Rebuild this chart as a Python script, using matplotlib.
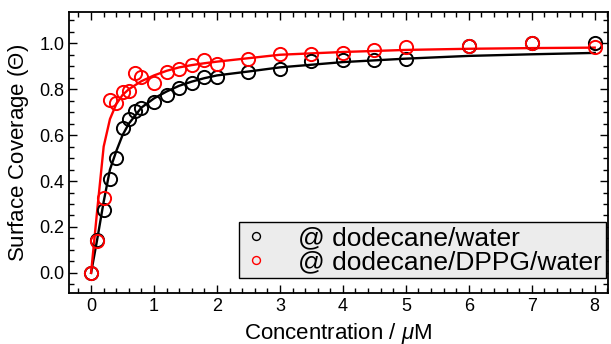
import matplotlib
matplotlib.use('Agg')
import matplotlib.pyplot as plt
from matplotlib.ticker import MultipleLocator
import numpy as np

plt.rcParams['font.family'] = ['Liberation Sans', 'DejaVu Sans']
plt.rcParams['mathtext.fontset'] = 'custom'
plt.rcParams['mathtext.rm'] = 'Liberation Sans'
plt.rcParams['mathtext.it'] = 'Liberation Sans:italic'

# measured surface coverage
conc_water = [0, 0.1, 0.2, 0.3, 0.4, 0.5, 0.6, 0.7, 0.8, 1.0, 1.2, 1.4, 1.6, 1.8, 2.0,
              2.5, 3.0, 3.5, 4.0, 4.5, 5.0, 6.0, 7.0, 8.0]
theta_water = [0.0, 0.145, 0.275, 0.41, 0.50, 0.63, 0.67, 0.705, 0.72, 0.745, 0.775, 0.805,
               0.828, 0.854, 0.854, 0.873, 0.887, 0.924, 0.927, 0.927, 0.932, 0.988, 1.0, 1.003]

conc_dppg = [0, 0.1, 0.2, 0.3, 0.4, 0.5, 0.6, 0.7, 0.8, 1.0, 1.2, 1.4, 1.6, 1.8, 2.0,
             2.5, 3.0, 3.5, 4.0, 4.5, 5.0, 6.0, 7.0, 8.0]
theta_dppg = [0.0, 0.14, 0.328, 0.752, 0.74, 0.787, 0.792, 0.87, 0.852, 0.828, 0.876, 0.887,
              0.905, 0.925, 0.909, 0.932, 0.952, 0.952, 0.959, 0.971, 0.982, 0.989, 1.0, 0.982]

# fitted curves
fit_x = [0, 0.1, 0.2, 0.3, 0.4, 0.5, 0.6, 0.8, 1.0, 1.2, 1.4, 1.6, 1.8, 2.0,
         2.5, 3.0, 4.0, 5.0, 6.0, 7.0, 8.0]
fit_water = [0.0, 0.15, 0.31, 0.45, 0.53, 0.60, 0.65, 0.72, 0.76, 0.79, 0.815, 0.833, 0.848,
             0.86, 0.877, 0.895, 0.918, 0.933, 0.945, 0.952, 0.958]
fit_dppg = [0.0, 0.28, 0.55, 0.67, 0.735, 0.775, 0.80, 0.835, 0.86, 0.88, 0.895, 0.905,
            0.913, 0.92, 0.935, 0.95, 0.962, 0.971, 0.976, 0.979, 0.981]

fig = plt.figure(figsize=(6.11, 3.44), dpi=100)
ax = fig.add_axes([0.113, 0.148, 0.882, 0.817])

ax.plot(fit_x, fit_water, color='black', lw=1.7, zorder=2)
ax.plot(fit_x, fit_dppg, color='red', lw=1.7, zorder=3)
ax.plot(conc_water, theta_water, 'o', ms=9.5, mfc='none', mec='black', mew=1.4,
        label='@ dodecane/water', zorder=4)
ax.plot(conc_dppg, theta_dppg, 'o', ms=9.5, mfc='none', mec='red', mew=1.4,
        label='@ dodecane/DPPG/water', zorder=5)

ax.set_xlim(-0.35, 8.21)
ax.set_ylim(-0.088, 1.136)
ax.xaxis.set_major_locator(MultipleLocator(1))
ax.xaxis.set_minor_locator(MultipleLocator(0.2))
ax.yaxis.set_major_locator(MultipleLocator(0.2))
ax.yaxis.set_minor_locator(MultipleLocator(0.05))
ax.yaxis.set_major_formatter(matplotlib.ticker.FormatStrFormatter('%.1f'))
ax.tick_params(which='both', direction='in', top=True, right=True, width=1.0, labelsize=13)
ax.tick_params(which='major', length=6)
ax.tick_params(which='minor', length=3.5)
for s in ax.spines.values():
    s.set_linewidth(1.3)

ax.set_xlabel(r'Concentration / $\mu$M', fontsize=16, labelpad=4)
ax.set_ylabel('Surface Coverage ($\\mathit{Θ}$)', fontsize=16, labelpad=6)

leg = ax.legend(loc='lower right', bbox_to_anchor=(0.996, 0.053), borderaxespad=0,
                fontsize=19, markerscale=0.6, handlelength=1.0, handletextpad=1.1,
                labelspacing=0.0, borderpad=0.15, fancybox=False, framealpha=1)
leg.get_frame().set_facecolor('#ececec')
leg.get_frame().set_edgecolor('black')
leg.get_frame().set_linewidth(1.0)
for h in leg.legend_handles:
    h.set_markeredgewidth(1.0)

fig.savefig('out.png', dpi=100)
